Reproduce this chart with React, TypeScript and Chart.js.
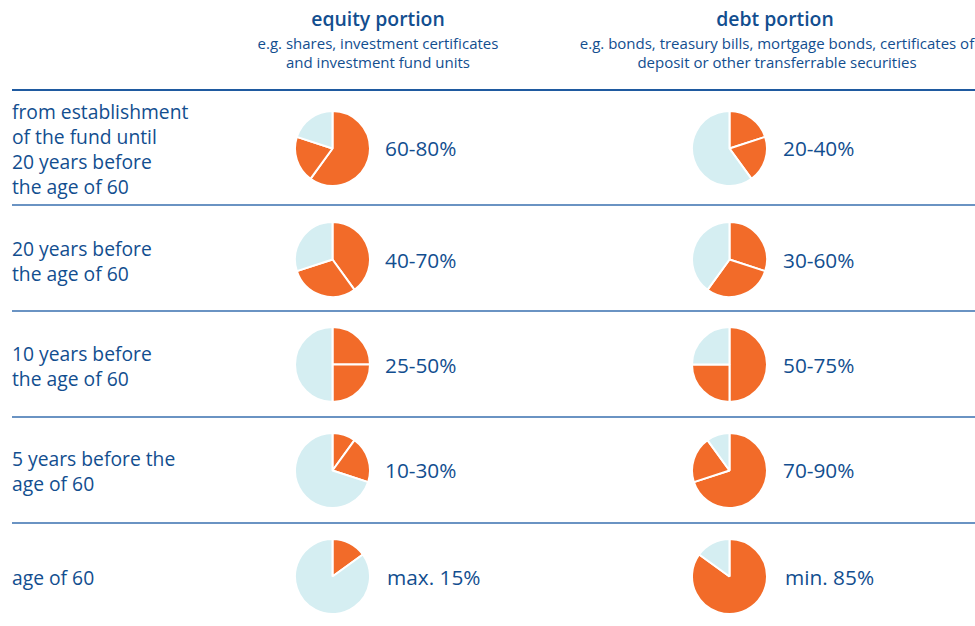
import React, { useEffect, useRef } from "react";
import { Chart, registerables } from "chart.js";

Chart.register(...registerables);

const stages: string[][] = [
  ["from establishment", "of the fund until", "20 years before", "the age of 60"],
  ["20 years before", "the age of 60"],
  ["10 years before", "the age of 60"],
  ["5 years before the", "age of 60"],
  ["age of 60"],
];
const equityMin = [60, 40, 25, 10, 15];
const equityRange = [20, 30, 25, 20, 0];
const debtMin = [20, 30, 50, 70, 85];
const debtRange = [20, 30, 25, 20, 0];
const equityLabels = ["60-80%", "40-70%", "25-50%", "10-30%", "max. 15%"];
const debtLabels = ["20-40%", "30-60%", "50-75%", "70-90%", "min. 85%"];

const ORANGE = "#f26b29";
const LIGHT = "#d5eef2";
const BLUE = "#124e8f";
const FONT = "'Open Sans', sans-serif";

const rowCenters = [148, 259.5, 364.5, 470, 576.5];
const lineYs = [90, 205, 311, 417, 523];
const equityX = 332;
const debtX = 729.5;
const PIE = 77;

function Pie({ a, b, cx, cy }: { a: number; b: number; cx: number; cy: number }) {
  const ref = useRef<HTMLCanvasElement>(null);
  useEffect(() => {
    if (!ref.current) return;
    const vals: number[] = [];
    const cols: string[] = [];
    if (a > 0) { vals.push(a); cols.push(ORANGE); }
    if (b > 0) { vals.push(b); cols.push(ORANGE); }
    const rest = 100 - a - b;
    if (rest > 0) { vals.push(rest); cols.push(LIGHT); }
    const chart = new Chart(ref.current, {
      type: "pie",
      data: {
        labels: vals.map((_, i) => String(i)),
        datasets: [{ data: vals, backgroundColor: cols, borderColor: "#ffffff", borderWidth: 2 }],
      },
      options: {
        responsive: false,
        animation: false,
        events: [],
        layout: { padding: 0 },
        plugins: { legend: { display: false }, tooltip: { enabled: false } },
      },
    });
    return () => chart.destroy();
  }, [a, b]);
  return (
    <canvas
      ref={ref}
      width={PIE}
      height={PIE}
      style={{ position: "absolute", left: cx - PIE / 2, top: cy - PIE / 2, width: PIE, height: PIE }}
    />
  );
}

export default function App() {
  return (
    <div
      style={{
        position: "fixed",
        left: 0,
        top: 0,
        width: 975,
        height: 626,
        background: "#ffffff",
        overflow: "hidden",
        fontFamily: FONT,
        color: BLUE,
      }}
    >
      <div style={{ position: "absolute", left: 178, width: 400, top: 6, textAlign: "center", fontWeight: 600, fontSize: 19.4, lineHeight: "26px" }}>
        equity portion
      </div>
      <div style={{ position: "absolute", left: 178, width: 400, top: 34, textAlign: "center", fontSize: 15, lineHeight: "18.5px" }}>
        e.g. shares, investment certificates
        <br />
        and investment fund units
      </div>
      <div style={{ position: "absolute", left: 575, width: 400, top: 6, textAlign: "center", fontWeight: 600, fontSize: 19.4, lineHeight: "26px" }}>
        debt portion
      </div>
      <div style={{ position: "absolute", left: 577, width: 400, top: 34, textAlign: "center", fontSize: 15, lineHeight: "18.5px", whiteSpace: "nowrap", display: "flex", flexDirection: "column", alignItems: "center" }}>
        <div>e.g. bonds, treasury bills, mortgage bonds, certificates of</div>
        <div>deposit or other transferrable securities</div>
      </div>
      {lineYs.map((y, i) => (
        <div
          key={"l" + i}
          style={{ position: "absolute", left: 12, width: 963, top: y - 1, height: 1.5, background: i === 0 ? "#1f5aa0" : "#6a93c3" }}
        />
      ))}
      {stages.map((lines, i) => (
        <div
          key={"s" + i}
          style={{
            position: "absolute",
            left: 12,
            top: rowCenters[i] + 1 - (lines.length * 25) / 2,
            fontSize: 19.3,
            lineHeight: "25px",
            whiteSpace: "nowrap",
          }}
        >
          {lines.map((t, j) => (
            <div key={j}>{t}</div>
          ))}
        </div>
      ))}
      {equityMin.map((v, i) => (
        <Pie key={"e" + i} a={v} b={equityRange[i]} cx={equityX} cy={rowCenters[i]} />
      ))}
      {debtMin.map((v, i) => (
        <Pie key={"d" + i} a={v} b={debtRange[i]} cx={debtX} cy={rowCenters[i]} />
      ))}
      {equityLabels.map((t, i) => (
        <div
          key={"el" + i}
          style={{ position: "absolute", left: i === 4 ? 387 : 385, top: rowCenters[i] - 15, fontSize: 20.8, lineHeight: "30px", whiteSpace: "nowrap" }}
        >
          {t}
        </div>
      ))}
      {debtLabels.map((t, i) => (
        <div
          key={"dl" + i}
          style={{ position: "absolute", left: i === 4 ? 785 : 783, top: rowCenters[i] - 15, fontSize: 20.8, lineHeight: "30px", whiteSpace: "nowrap" }}
        >
          {t}
        </div>
      ))}
    </div>
  );
}
